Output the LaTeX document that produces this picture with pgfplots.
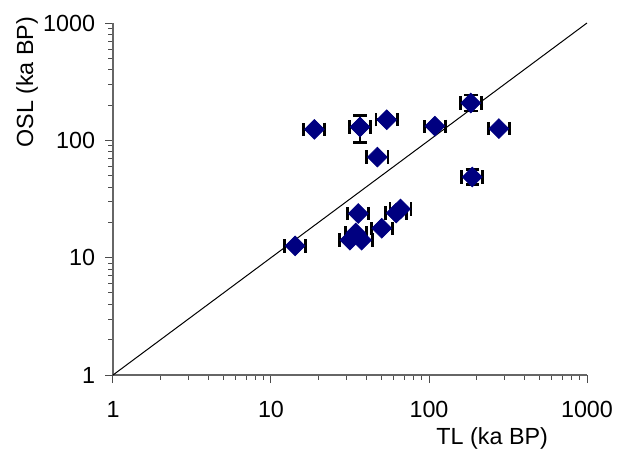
\documentclass[border=0pt]{standalone}
\usepackage{fontspec}
\setmainfont{Liberation Sans}
\usepackage{pgfplots}
\pgfplotsset{compat=1.18}

\definecolor{navy}{RGB}{0,0,128}

% TL vs OSL ages, ka BP
\pgfplotstableread{
x     y     xp    xm    yp    ym
14.2  12.6  2.3   2.0   0     0
18.8  124   3.1   2.7   0     0
31.6  14.1  5.2   4.5   0     0
34.4  16.2  5.7   4.9   0     0
37.5  14.1  6.2   5.3   0     0
35.7  23.8  5.9   5.1   0     0
36.6  130   6.0   5.2   33    34
47.1  72    7.8   6.7   0     0
54    150   8.9   7.7   0     0
50.2  17.8  8.3   7.1   0     0
62    24    10.2  8.8   0     0
66    26    10.9  9.4   0     0
109   132   18    15.5  0     0
184   208   30    26    35    30
188   48.7  31    27    7.7   6.7
277   126   46    39    0     0
}\ages

\begin{document}
\begin{tikzpicture}
\useasboundingbox (-67.8pt,-46.2pt) rectangle (307.2pt,225pt);
\begin{axis}[
  at={(0,0)}, anchor=south west,
  scale only axis,
  width=284.4pt, height=211.2pt,
  xmode=log, ymode=log,
  xmin=1, xmax=1000, ymin=1, ymax=1000,
  axis x line*=bottom, axis y line*=left,
  axis line style={black!60, line width=0.7pt},
  tick align=outside,
  major tick length=4.8pt,
  tick style={black!70, line width=0.6pt},
  minor tick num=0,
  xtick={1,10,100,1000}, ytick={1,10,100,1000},
  xticklabels={1,10,100,1000}, yticklabels={1,10,100,1000},
  ticklabel style={font=\fontsize{14}{16}\selectfont},
  xticklabel style={yshift=-7.5pt},
  yticklabel style={xshift=-2.4pt},
  /pgf/number format/assume math mode=true,
  xlabel={TL (ka BP)}, ylabel={OSL (ka BP)},
  label style={font=\fontsize{14}{16}\selectfont},
  xlabel style={at={(axis description cs:0.80,0)}, anchor=center, yshift=-37.8pt},
  ylabel style={at={(axis description cs:-0.181,0.832)}, anchor=center},
  clip=false,
]
\addplot[black, line width=0.6pt] coordinates {(1,1) (1000,1000)};
\addplot[only marks, mark=square*, mark size=4.2pt,
  mark options={rotate=45, fill=navy, draw=navy},
  error bars/.cd,
    x dir=both, x explicit,
    y dir=both, y explicit,
    error mark=|,
    error bar style={black, line width=1.6pt},
    error mark options={black, line width=1.6pt, mark size=4pt},
] table[x=x, y=y, x error plus=xp, x error minus=xm, y error plus=yp, y error minus=ym] {\ages};
\end{axis}
\end{tikzpicture}
\end{document}
